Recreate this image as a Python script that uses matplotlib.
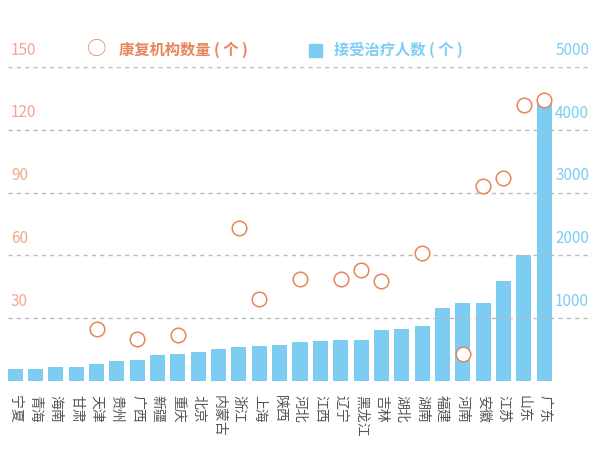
import numpy as np
import matplotlib.pyplot as plt
import matplotlib.transforms as mtransforms

plt.rcParams['font.family'] = ['Noto Sans CJK SC', 'DejaVu Sans']

provinces = ['宁夏', '青海', '海南', '甘肃', '天津', '贵州', '广西', '新疆', '重庆', '北京',
             '内蒙古', '浙江', '上海', '陕西', '河北', '江西', '辽宁', '黑龙江', '吉林', '湖北',
             '湖南', '福建', '河南', '安徽', '江苏', '山东', '广东']
patients = [190, 190, 220, 220, 270, 320, 330, 410, 430, 460,
            510, 540, 560, 570, 620, 640, 650, 650, 810, 830,
            870, 1160, 1240, 1250, 1600, 2000, 4460]
institutions = [np.nan, np.nan, np.nan, np.nan, 25, np.nan, 20, np.nan, 22, np.nan,
                np.nan, 73, 39, np.nan, 48.5, np.nan, 48.5, 53, 48, np.nan,
                61, np.nan, 13, 93, 97, 132, 134]
left_ticks = [30, 60, 90, 120, 150]
right_ticks = [1000, 2000, 3000, 4000, 5000]

orange = '#E8845A'
blue = '#7DCDF3'

fig = plt.figure(figsize=(6, 4.67), dpi=100)
ax = fig.add_axes([8 / 600, 86 / 467, 584 / 600, 314 / 467])
ax2 = ax.twinx()

x = np.arange(len(provinces))
ax2.bar(x, patients, width=0.74, color=blue, zorder=1)
ax.set_zorder(ax2.get_zorder() + 1)
ax.patch.set_visible(False)
ax.scatter(x, institutions, s=110, facecolors='white', edgecolors=orange, linewidths=1.1, zorder=3)

ax.set_xlim(-0.35, 28.35)
ax.set_ylim(0, 150)
ax2.set_ylim(0, 5000)
for a in (ax, ax2):
    for s in a.spines.values():
        s.set_visible(False)
    a.set_yticks([])
ax.tick_params(axis='x', length=0, pad=10)
ax.set_xticks(x)
ax.set_xticklabels(provinces, rotation=-90, fontsize=10, color='#555555', va='top')

for t in left_ticks:
    ax.axhline(t, color='#BBBBBB', ls=(0, (3, 3)), lw=1, zorder=0)
    ax.text(0.005, t + 4, str(t), transform=mtransforms.blended_transform_factory(ax.transAxes, ax.transData),
            color=orange, alpha=0.7, fontsize=11, ha='left', va='bottom')
for t in right_ticks:
    ax2.text(0.995, t + 130, str(t), transform=mtransforms.blended_transform_factory(ax2.transAxes, ax2.transData),
             color=blue, fontsize=11, ha='right', va='bottom')

# legend
fig.text(0.162, 0.893, '○', color=orange, fontsize=14, ha='center', va='center')
fig.text(0.198, 0.893, '康复机构数量 ( 个 )', color=orange, fontsize=11, fontweight='bold', ha='left', va='center')
fig.patches.append(plt.Rectangle((0.515, 0.878), 0.022, 0.028, color=blue, transform=fig.transFigure))
fig.text(0.557, 0.893, '接受治疗人数 ( 个 )', color=blue, fontsize=11, fontweight='bold', ha='left', va='center')

plt.savefig('out.png', dpi=100)
